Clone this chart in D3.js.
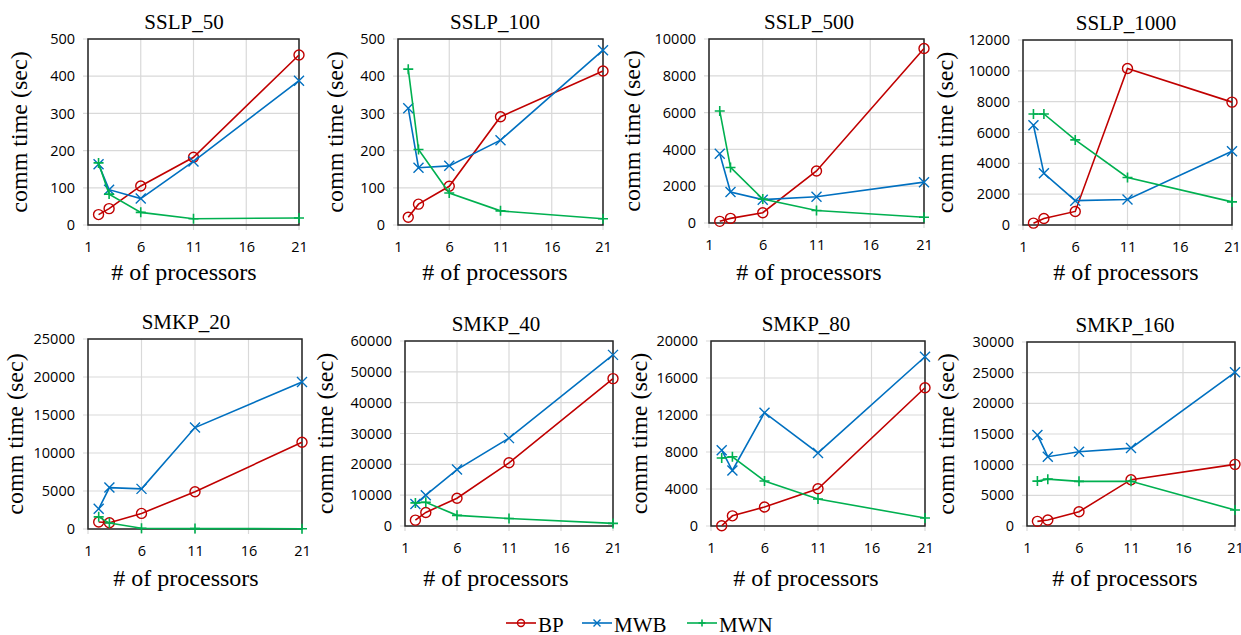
<!DOCTYPE html>
<html>
<head>
<meta charset="utf-8">
<script src="https://cdn.jsdelivr.net/npm/d3@7"></script>
<style>
  body { margin: 0; background: #fff; }
  svg { display: block; }
  .tick text { font-family: "Open Sans", sans-serif; font-size: 14.5px; fill: #000; }
  .serif { font-family: "Liberation Serif", "Times New Roman", serif; fill: #000; }
</style>
</head>
<body>
<svg id="chart"></svg>
<script>
// panel names and x values (number of processors)
const titles = ["SSLP_50", "SSLP_100", "SSLP_500", "SSLP_1000",
                "SMKP_20", "SMKP_40", "SMKP_80", "SMKP_160"];
const procs = [2, 3, 6, 11, 21];
const xTicks = [1, 6, 11, 16, 21];
const yMax = [500, 500, 10000, 12000, 25000, 60000, 20000, 30000];
const yStep = [100, 100, 2000, 2000, 5000, 10000, 4000, 5000];

// comm time (sec), one row per panel
const bpValues = [
  [28, 44, 105, 182, 457],
  [21, 56, 104, 291, 414],
  [90, 250, 560, 2830, 9480],
  [120, 420, 880, 10150, 7970],
  [930, 830, 2050, 4900, 11420],
  [1900, 4400, 9000, 20500, 47800],
  [30, 1100, 2050, 4030, 14950],
  [760, 980, 2330, 7550, 10050]
];
const mwbValues = [
  [163, 95, 71, 171, 388],
  [314, 154, 159, 228, 470],
  [3760, 1680, 1270, 1430, 2220],
  [6470, 3350, 1580, 1650, 4780],
  [2650, 5450, 5280, 13350, 19350],
  [7100, 10000, 18300, 28500, 55500],
  [8200, 6000, 12250, 7900, 18300],
  [14850, 11300, 12100, 12700, 25050]
];
const mwnValues = [
  [167, 83, 34, 17, 19],
  [419, 203, 86, 38, 17],
  [6090, 3020, 1300, 680, 310],
  [7200, 7200, 5520, 3080, 1500],
  [1600, 780, 90, 50, 40],
  [7500, 7700, 3450, 2450, 850],
  [7350, 7480, 4870, 2920, 860],
  [7320, 7640, 7280, 7300, 2600]
];

const seriesNames = ["BP", "MWB", "MWN"];
const seriesColors = ["#C00000", "#0070C0", "#00B050"];
const seriesData = [bpValues, mwbValues, mwnValues];

// layout of each plot box (pixels); xlb = baseline of x label
const boxes = [
  { l: 88, r: 299, t: 39, b: 225, cx: 184, ylx: 20, xlb: 280 },
  { l: 398, r: 603, t: 39, b: 225, cx: 495, ylx: 336, xlb: 280 },
  { l: 709, r: 924, t: 39, b: 223, cx: 809, ylx: 633, xlb: 280 },
  { l: 1023, r: 1232, t: 40, b: 225, cx: 1126, ylx: 946, xlb: 280 },
  { l: 88, r: 302, t: 339, b: 529, cx: 186, ylx: 16, xlb: 586 },
  { l: 405, r: 613, t: 341, b: 526, cx: 496, ylx: 326, xlb: 586 },
  { l: 711, r: 925, t: 341, b: 526, cx: 806, ylx: 640, xlb: 586 },
  { l: 1027, r: 1235, t: 342, b: 526, cx: 1125, ylx: 947, xlb: 586 }
];

const width = 1241, height = 635;

const svg = d3.select("#chart").attr("width", width).attr("height", height);

function drawMarker(g, type, color, s) {
  if (type === 0) {
    g.append("circle").attr("r", s).attr("fill", "none")
      .attr("stroke", color).attr("stroke-width", 1.4);
  } else if (type === 1) {
    g.append("path").attr("d", `M${-s},${-s}L${s},${s}M${-s},${s}L${s},${-s}`)
      .attr("stroke", color).attr("stroke-width", 1.4);
  } else {
    g.append("path").attr("d", `M${-s},0L${s},0M0,${-s}L0,${s}`)
      .attr("stroke", color).attr("stroke-width", 1.6);
  }
}

titles.forEach((title, i) => {
  const box = boxes[i];
  const x = d3.scaleLinear().domain([1, 21]).range([box.l, box.r]);
  const y = d3.scaleLinear().domain([0, yMax[i]]).range([box.b, box.t]);
  const yTicks = d3.range(0, yMax[i] + 1, yStep[i]);

  const g = svg.append("g");

  // gridlines
  g.append("g").selectAll("line").data(yTicks).enter().append("line")
    .attr("x1", box.l - 5).attr("x2", box.r)
    .attr("y1", d => y(d)).attr("y2", d => y(d))
    .attr("stroke", "#D9D9D9").attr("stroke-width", 1.2);
  g.append("g").selectAll("line").data(xTicks).enter().append("line")
    .attr("x1", d => x(d)).attr("x2", d => x(d))
    .attr("y1", box.t).attr("y2", box.b + 5)
    .attr("stroke", "#D9D9D9").attr("stroke-width", 1.2);

  // axes (labels only, lines drawn by the frame)
  const yAxis = g.append("g").attr("transform", `translate(${box.l},0)`)
    .call(d3.axisLeft(y).tickValues(yTicks).tickSize(0).tickPadding(13).tickFormat(d3.format("d")));
  yAxis.select(".domain").remove();
  const xAxis = g.append("g").attr("transform", `translate(0,${box.b})`)
    .call(d3.axisBottom(x).tickValues(xTicks).tickSize(0).tickPadding(17).tickFormat(d3.format("d")));
  xAxis.select(".domain").remove();
  g.selectAll(".tick text").attr("font-family", null).attr("font-size", null);

  // frame
  g.append("rect")
    .attr("x", box.l).attr("y", box.t)
    .attr("width", box.r - box.l).attr("height", box.b - box.t)
    .attr("fill", "none").attr("stroke", "#262626").attr("stroke-width", 1.5);

  // series
  const line = d3.line().x((d, k) => x(procs[k])).y(d => y(d));
  seriesData.forEach((sd, s) => {
    const vals = sd[i];
    g.append("path").datum(vals).attr("d", line)
      .attr("fill", "none").attr("stroke", seriesColors[s]).attr("stroke-width", 1.6);
    vals.forEach((v, k) => {
      const m = g.append("g").attr("transform", `translate(${x(procs[k])},${y(v)})`);
      drawMarker(m, s, seriesColors[s], 5);
    });
  });

  // title
  svg.append("text").attr("class", "serif").attr("x", box.cx).attr("y", box.t - 10)
    .attr("text-anchor", "middle").attr("font-size", 21)
    .text(title);

  // x label
  svg.append("text").attr("class", "serif").attr("x", box.cx).attr("y", box.xlb)
    .attr("text-anchor", "middle").attr("font-size", 24)
    .text("# of processors");

  // y label
  svg.append("text").attr("class", "serif")
    .attr("transform", `translate(${box.ylx},${(box.t + box.b) / 2}) rotate(-90)`)
    .attr("dy", "0.3em")
    .attr("text-anchor", "middle").attr("font-size", 24)
    .text("comm time (sec)");
});

// legend
const legendX = [506, 582, 687];
const legend = svg.append("g");
seriesNames.forEach((name, s) => {
  const lg = legend.append("g").attr("transform", `translate(${legendX[s]},623)`);
  lg.append("line").attr("x1", 0).attr("x2", 30).attr("y1", 0).attr("y2", 0)
    .attr("stroke", seriesColors[s]).attr("stroke-width", 1.6);
  const m = lg.append("g").attr("transform", "translate(15,0)");
  drawMarker(m, s, seriesColors[s], 3.5);
  lg.append("text").attr("class", "serif").attr("x", 32).attr("y", 9)
    .attr("font-size", 21).text(name);
});
</script>
</body>
</html>
